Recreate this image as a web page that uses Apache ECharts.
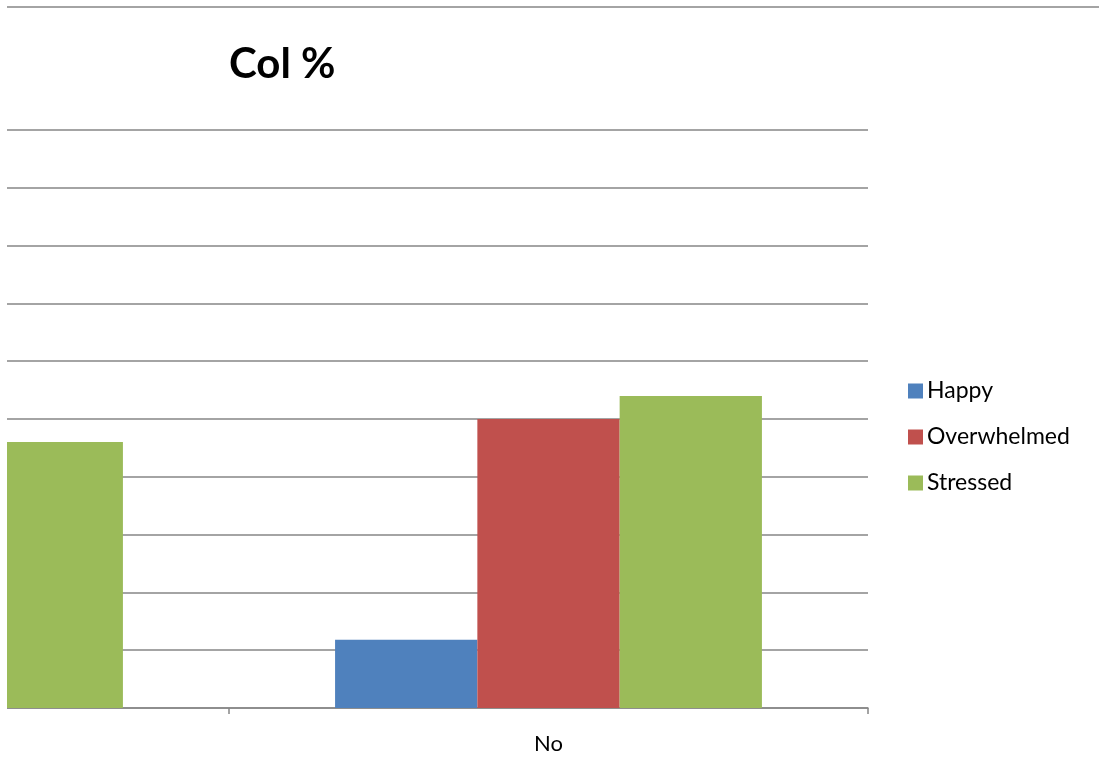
<!DOCTYPE html>
<html>
<head>
<meta charset="utf-8">
<script src="https://cdn.jsdelivr.net/npm/echarts@6/dist/echarts.min.js"></script>
<style>html,body{margin:0;padding:0;background:#fff}#c{width:1099px;height:778px}</style>
</head>
<body>
<div id="c"></div>
<script>
const categories = ['Yes', 'No'];
const happy = [null, 11.8];
const overwhelmed = [null, 50];
const stressed = [46, 54];
const seriesNames = ['Happy', 'Overwhelmed', 'Stressed'];
const colors = ['#4F81BD', '#C0504D', '#9BBB59'];

const chart = echarts.init(document.getElementById('c'));
const font = 'Lato, "Liberation Sans", sans-serif';
chart.setOption({
  animation: false,
  color: colors,
  title: {
    text: 'Col %', left: 224, top: 38,
    textStyle: { fontFamily: font, fontSize: 42, fontWeight: 'bold', color: '#000' }
  },
  legend: {
    orient: 'vertical', left: 903, top: 373,
    itemWidth: 15, itemHeight: 15, itemGap: 20, icon: 'rect',
    textStyle: { fontFamily: font, fontSize: 23, lineHeight: 26, color: '#000', padding: [0,0,0,-1] },
    data: seriesNames
  },
  grid: { left: -410, right: 231, top: 130, bottom: 70, containLabel: false, outerBoundsMode: 'none' },
  xAxis: {
    type: 'category', data: categories,
    axisLine: { lineStyle: { color: '#868686', width: 1.5 } },
    axisTick: { show: true, length: 6, lineStyle: { color: '#868686', width: 1.5 } },
    axisLabel: { fontFamily: font, fontSize: 22, color: '#000', margin: 25 }
  },
  yAxis: {
    type: 'value', min: 0, max: 100, interval: 10,
    axisLabel: { show: false }, axisLine: { show: false }, axisTick: { show: false },
    splitLine: { lineStyle: { color: '#868686', width: 1.5 } }
  },
  series: [
    { name: seriesNames[0], type: 'bar', data: happy, barGap: '0%', barCategoryGap: '33.2%' },
    { name: seriesNames[1], type: 'bar', data: overwhelmed, barGap: '0%', barCategoryGap: '33.2%' },
    { name: seriesNames[2], type: 'bar', data: stressed, barGap: '0%', barCategoryGap: '33.2%' }
  ],
  graphic: [
    { type: 'rect', shape: { x: 0, y: 0, width: 7, height: 778 }, style: { fill: '#fff' }, z: 100 },
    { type: 'line', shape: { x1: 7, y1: 7, x2: 1099, y2: 7 }, style: { stroke: '#868686', lineWidth: 1.5 }, z: 100 }
  ]
});
</script>
</body>
</html>
